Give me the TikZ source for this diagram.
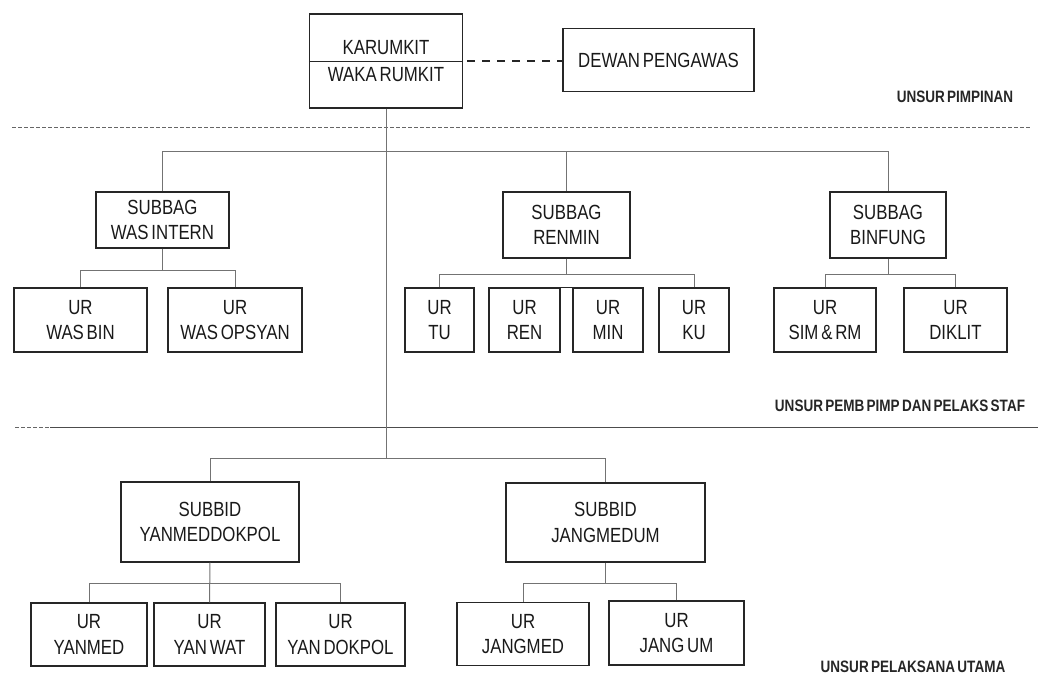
\documentclass[tikz,border=0pt]{standalone}
\usepackage{fontspec}
\setmainfont{Liberation Sans}[FakeStretch=0.82, WordSpace=0.6]
\begin{document}
\begin{tikzpicture}[x=1pt,y=-1pt,
  box/.style={draw=black!85, line width=1.3pt, inner sep=0pt, align=center,
    text=black!90, font=\fontsize{20.5}{25.5}\selectfont},
  txt/.style={inner sep=0pt, text=black!90, font=\fontsize{20.5}{25.5}\selectfont},
  conn/.style={draw=black!55, line width=1pt},
  side/.style={inner sep=0pt, text=black!85, font=\bfseries\fontsize{16.5}{18}\selectfont},
  sep/.style={draw=black!60, line width=0.9pt}]
\useasboundingbox (0,0) rectangle (1040,677);

% bus levels
\coordinate (top) at (0,151);
\coordinate (b1) at (0,270);
\coordinate (b2) at (0,274);
\coordinate (bot) at (0,458);
\coordinate (b3) at (0,583);

% separators
\draw[sep, dash pattern=on 4pt off 2pt] (12,127) -- (1030,127);
\draw[sep, dash pattern=on 4pt off 2pt] (15,427) -- (50,427);
\draw[sep, black!70] (50,427) -- (1038,427);

% side labels
\node[side] (l1) at (955,97) {UNSUR PIMPINAN};
\node[side] (l2) at (900,406) {UNSUR PEMB PIMP DAN PELAKS STAF};
\node[side] (l3) at (913,667) {UNSUR PELAKSANA UTAMA};

% top
\node[box, minimum width=153pt, minimum height=94pt] (kar) at (386,61) {};
\draw[draw=black!85, line width=1pt] (kar.west) -- (kar.east);
\node[txt] (karumkit) at (386,48) {KARUMKIT};
\node[txt] (waka) at (386,75) {WAKA RUMKIT};
\node[box, minimum width=191pt, minimum height=63pt] (dewan) at (658.5,60) {DEWAN PENGAWAS};
\draw[black!85, line width=1.3pt, dash pattern=on 8pt off 7pt] (kar.east) ++(4,0) -- (kar.east -| dewan.west);

% subbag row
\node[box, minimum width=133pt, minimum height=56pt] (wasintern) at (162.5,220) {SUBBAG\\WAS INTERN};
\node[box, minimum width=127pt, minimum height=66pt] (renmin) at (566.5,225) {SUBBAG\\RENMIN};
\node[box, minimum width=116pt, minimum height=66pt] (binfung) at (888,225) {SUBBAG\\BINFUNG};

% ur row 1
\node[box, minimum width=133pt, minimum height=64pt] (wasbin) at (80.5,320) {UR\\WAS BIN};
\node[box, minimum width=134pt, minimum height=64pt] (wasopsyan) at (235,320) {UR\\WAS OPSYAN};
\node[box, minimum width=69pt, minimum height=64pt] (tu) at (439.5,320) {UR\\TU};
\node[box, minimum width=71pt, minimum height=64pt] (ren) at (524.5,320) {UR\\REN};
\node[box, minimum width=70pt, minimum height=64pt] (min) at (608,320) {UR\\MIN};
\node[box, minimum width=70pt, minimum height=64pt] (ku) at (694,320) {UR\\KU};
\node[box, minimum width=102pt, minimum height=64pt] (simrm) at (825,320) {UR\\SIM \& RM};
\node[box, minimum width=103pt, minimum height=64pt] (diklit) at (955.5,320) {UR\\DIKLIT};

% subbid row
\node[box, minimum width=178pt, minimum height=80pt] (yanmeddokpol) at (210,522) {SUBBID\\YANMEDDOKPOL};
\node[box, minimum width=199pt, minimum height=79pt] (jangmedum) at (605.5,522.5) {SUBBID\\JANGMEDUM};

% ur row 3
\node[box, minimum width=116pt, minimum height=63pt] (yanmed) at (89,634.5) {UR\\YANMED};
\node[box, minimum width=111pt, minimum height=63pt] (yanwat) at (209.5,634.5) {UR\\YAN WAT};
\node[box, minimum width=129pt, minimum height=63pt] (yandokpol) at (340.5,634.5) {UR\\YAN DOKPOL};
\node[box, minimum width=132pt, minimum height=63pt] (jangmed) at (523,634) {UR\\JANGMED};
\node[box, minimum width=135pt, minimum height=64pt] (jangum) at (676.5,633) {UR\\JANG UM};

% trunk
\draw[conn] (kar.south) -- (kar.south |- bot);
% top bus
\draw[conn] (wasintern.north) -- (wasintern.north |- top) -- (binfung.north |- top) -- (binfung.north);
\draw[conn] (renmin.north |- top) -- (renmin.north);
% was intern children
\draw[conn] (wasintern.south) -- (wasintern.south |- b1);
\draw[conn] (wasbin.north) -- (wasbin.north |- b1) -- (wasopsyan.north |- b1) -- (wasopsyan.north);
% renmin children
\draw[conn] (renmin.south) -- (renmin.south |- b2);
\draw[conn] (tu.north) -- (tu.north |- b2) -- (ku.north |- b2) -- (ku.north);
\draw[draw=black!85, line width=1.2pt] (ren.north east) -- (min.north west);
% binfung children
\draw[conn] (binfung.south) -- (binfung.south |- b2);
\draw[conn] (simrm.north) -- (simrm.north |- b2) -- (diklit.north |- b2) -- (diklit.north);
% bottom bus
\draw[conn] (yanmeddokpol.north) -- (yanmeddokpol.north |- bot) -- (jangmedum.north |- bot) -- (jangmedum.north);
% yanmeddokpol children
\draw[conn] (yanmeddokpol.south) -- (yanwat.north);
\draw[conn] (yanmed.north) -- (yanmed.north |- b3) -- (yandokpol.north |- b3) -- (yandokpol.north);
% jangmedum children
\draw[conn] (jangmedum.south) -- (jangmedum.south |- b3);
\draw[conn] (jangmed.north) -- (jangmed.north |- b3) -- (jangum.north |- b3) -- (jangum.north);
\end{tikzpicture}
\end{document}
